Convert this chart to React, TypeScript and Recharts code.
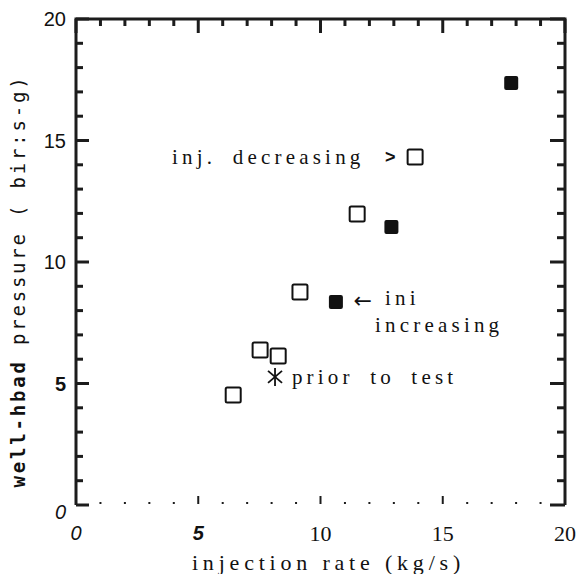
import { ScatterChart, Scatter, XAxis, YAxis, ReferenceDot } from "recharts";

// axis ticks (every unit, majors every 5)
const xTicks = [0, 1, 2, 3, 4, 5, 6, 7, 8, 9, 10, 11, 12, 13, 14, 15, 16, 17, 18, 19, 20];
const yTicks = [0, 1, 2, 3, 4, 5, 6, 7, 8, 9, 10, 11, 12, 13, 14, 15, 16, 17, 18, 19, 20];
const majorTicks = [0, 5, 10, 15, 20];
const xDomain = [0, 20];
const yDomain = [0, 20];

// injection rate (kg/s) vs well-head pressure
const openSquares = [
  { x: 6.43, y: 4.53 },
  { x: 7.53, y: 6.38 },
  { x: 8.27, y: 6.13 },
  { x: 9.16, y: 8.77 },
  { x: 11.5, y: 11.98 },
  { x: 13.87, y: 14.32 },
];

const filledSquares = [
  { x: 10.63, y: 8.35 },
  { x: 12.9, y: 11.44 },
  { x: 17.8, y: 17.37 },
];

const priorToTest = [{ x: 8.14, y: 5.27 }];

const notes = [
  { x: 3.93, y: 14.32, text: "inj. decreasing", kind: "serif" },
  { x: 12.64, y: 14.32, text: ">", kind: "bold" },
  { x: 11.35, y: 8.4, text: "←", kind: "arrow" },
  { x: 12.64, y: 8.5, text: "ini", kind: "serif" },
  { x: 12.23, y: 7.42, text: "increasing", kind: "serif" },
  { x: 8.83, y: 5.27, text: "prior to test", kind: "serif" },
];

// frame (left, top, right edge; the original has no bottom line) and tick anchors
const [x0, x1] = xDomain;
const [y0, y1] = yDomain;
const frame = [
  { x: x0, y: y0 },
  { x: x0, y: y1 },
  { x: x1, y: y1 },
  { x: x1, y: y0 },
];
const leftTicks = yTicks.map((v) => ({ x: x0, y: v, v }));
const rightTicks = yTicks.map((v) => ({ x: x1, y: v, v }));
const topTicks = xTicks.map((v) => ({ x: v, y: y1, v }));
const bottomTicks = xTicks.filter((v) => v > x0 && v < x1).map((v) => ({ x: v, y: y0, v }));

const sans = "'Liberation Sans', Arial, sans-serif";
const serif = "'Liberation Serif', 'Times New Roman', serif";
const mono = "'DejaVu Sans Mono', 'Liberation Mono', monospace";
const ink = "#111";
const rule = "#1c1c1c";

const isMajor = (v: number) => majorTicks.includes(v);

function LeftLabel({ x, y, payload }: any) {
  const v = payload.value;
  if (!isMajor(v)) return <g />;
  const style: any = { fontFamily: sans, fontSize: 20, fill: ink };
  if (v === 5) style.fontWeight = "bold";
  if (v === 0) style.fontStyle = "italic";
  return (
    <text x={x - 10} y={v === 0 ? y + 7 : y} textAnchor="end" dominantBaseline="central" {...style}>
      {v}
    </text>
  );
}

function BottomLabel({ x, y, payload }: any) {
  const v = payload.value;
  if (!isMajor(v)) return <g />;
  const style: any = { fontFamily: serif, fontSize: 22, fill: ink };
  if (v === 0) Object.assign(style, { fontFamily: sans, fontStyle: "italic", fontSize: 20 });
  if (v === 5) Object.assign(style, { fontFamily: sans, fontStyle: "italic", fontWeight: "bold", fontSize: 20 });
  return (
    <text x={x} y={y + 28} textAnchor="middle" dominantBaseline="central" {...style}>
      {v}
    </text>
  );
}

const tickVal = (p: any) => (p.payload && p.payload.v != null ? p.payload.v : p.v);

function LeftMark(p: any) {
  const len = isMajor(tickVal(p)) ? 13 : 7;
  return <line x1={p.cx} x2={p.cx + len} y1={p.cy} y2={p.cy} stroke={rule} strokeWidth={3} />;
}

function RightMark(p: any) {
  const len = isMajor(tickVal(p)) ? 15 : 8;
  return <line x1={p.cx} x2={p.cx - len} y1={p.cy} y2={p.cy} stroke={rule} strokeWidth={3} />;
}

function TopMark(p: any) {
  const len = isMajor(tickVal(p)) ? 14 : 7;
  return <line x1={p.cx} x2={p.cx} y1={p.cy} y2={p.cy + len} stroke={rule} strokeWidth={3} />;
}

function BottomMark(p: any) {
  const len = isMajor(tickVal(p)) ? 8 : 2;
  return <line x1={p.cx} x2={p.cx} y1={p.cy - 1} y2={p.cy - 1 - len} stroke={rule} strokeWidth={2} />;
}

function OpenSquare({ cx, cy }: any) {
  return <rect x={cx - 7.5} y={cy - 7.5} width={15} height={15} rx={1.5} fill="#fff" stroke={ink} strokeWidth={2} />;
}

function FilledSquare({ cx, cy }: any) {
  return <rect x={cx - 7} y={cy - 7} width={14} height={14} rx={2} fill={ink} />;
}

function Asterisk({ cx, cy }: any) {
  return (
    <g stroke={ink} strokeWidth={1.8}>
      <line x1={cx} x2={cx} y1={cy - 9} y2={cy + 9} />
      <line x1={cx - 7} x2={cx + 7} y1={cy - 6} y2={cy + 6} />
      <line x1={cx - 7} x2={cx + 7} y1={cy + 6} y2={cy - 6} />
    </g>
  );
}

function Note(note: { text: string; kind: string }) {
  return ({ cx, cy }: any) => {
    if (note.kind === "bold")
      return (
        <text x={cx} y={cy} dominantBaseline="central" fontFamily={sans} fontWeight="bold" fontSize={18} fill={ink}>
          {note.text}
        </text>
      );
    if (note.kind === "arrow")
      return (
        <text x={cx} y={cy} dominantBaseline="central" fontFamily="'DejaVu Sans', sans-serif" fontSize={22} fill={ink}>
          {note.text}
        </text>
      );
    return (
      <text
        x={cx}
        y={cy}
        dominantBaseline="central"
        fontFamily={serif}
        fontSize={21}
        letterSpacing={4.2}
        wordSpacing={7}
        fill={ink}
      >
        {note.text}
      </text>
    );
  };
}

function YLabel({ viewBox }: any) {
  const x = viewBox.x + viewBox.width - 58;
  const y = viewBox.y + viewBox.height / 2 + 19;
  return (
    <text
      x={x}
      y={y}
      transform={`rotate(-90 ${x} ${y})`}
      textAnchor="middle"
      dominantBaseline="central"
      fontFamily={mono}
      fontSize={19}
      letterSpacing={2.8}
      fill={ink}
    >
      <tspan fontWeight="bold">well-hbad</tspan> pressure ( bir:s-g)
    </text>
  );
}

function XLabel({ viewBox }: any) {
  const x = viewBox.x + viewBox.width / 2 + 8;
  const y = viewBox.y + 57;
  return (
    <text x={x} y={y} textAnchor="middle" dominantBaseline="central" fontFamily={serif} fontSize={22} letterSpacing={4.8} fill={ink}>
      injection rate (kg/s)
    </text>
  );
}

export default function App() {
  return (
    <div style={{ position: "absolute", left: 0, top: 0 }}>
      <ScatterChart width={582} height={574} margin={{ top: 19, right: 17, bottom: 9, left: 16 }}>
        <XAxis
          dataKey="x"
          type="number"
          domain={xDomain}
          ticks={xTicks}
          interval={0}
          height={60}
          tickSize={0}
          tickMargin={0}
          axisLine={false}
          tickLine={false}
          tick={<BottomLabel />}
          label={<XLabel />}
        />
        <YAxis
          dataKey="y"
          type="number"
          domain={yDomain}
          ticks={yTicks}
          interval={0}
          width={60}
          tickSize={0}
          tickMargin={0}
          axisLine={false}
          tickLine={false}
          tick={<LeftLabel />}
          label={<YLabel />}
        />

        {/* box and inward tick marks */}
        <Scatter data={frame} shape={() => <g />} line={{ stroke: rule, strokeWidth: 3 }} isAnimationActive={false} />
        <Scatter data={leftTicks} shape={LeftMark} isAnimationActive={false} />
        <Scatter data={rightTicks} shape={RightMark} isAnimationActive={false} />
        <Scatter data={topTicks} shape={TopMark} isAnimationActive={false} />
        <Scatter data={bottomTicks} shape={BottomMark} isAnimationActive={false} />

        <Scatter data={openSquares} shape={<OpenSquare />} isAnimationActive={false} />
        <Scatter data={filledSquares} shape={<FilledSquare />} isAnimationActive={false} />
        <Scatter data={priorToTest} shape={<Asterisk />} isAnimationActive={false} />
        {notes.map((n) => (
          <ReferenceDot key={n.text} x={n.x} y={n.y} r={0} ifOverflow="visible" shape={Note(n)} />
        ))}
      </ScatterChart>
    </div>
  );
}
